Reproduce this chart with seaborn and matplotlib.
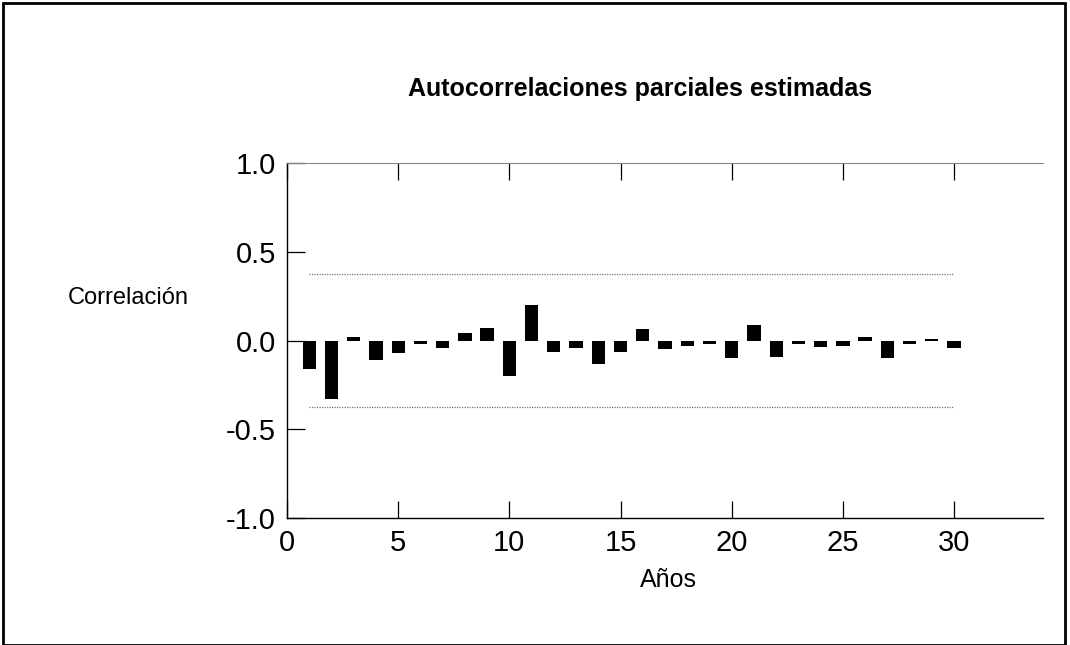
import matplotlib
matplotlib.use("Agg")
import matplotlib.pyplot as plt
import seaborn as sns
import pandas as pd
from matplotlib.patches import Rectangle

lags = list(range(1, 31))
pacf = [-0.16, -0.33, 0.02, -0.11, -0.07, -0.02, -0.04, 0.04, 0.07, -0.20,
        0.20, -0.065, -0.04, -0.13, -0.065, 0.065, -0.05, -0.03, -0.02, -0.10,
        0.085, -0.095, -0.02, -0.035, -0.03, 0.02, -0.10, -0.02, 0.01, -0.045]
conf_band = 0.372
band_lags = [1, 30]
x_ticks = [0, 5, 10, 15, 20, 25, 30]
y_ticks = [-1.0, -0.5, 0.0, 0.5, 1.0]
y_ticklabels = ["-1.0", "-0.5", "0.0", "0.5", "1.0"]
title = "Autocorrelaciones parciales estimadas"
xlabel = "Años"
ylabel = "Correlación"

sns.set_style("white")
plt.rcParams["font.family"] = ["Liberation Sans Narrow", "Liberation Sans", "DejaVu Sans"]
plt.rcParams["text.color"] = "black"
plt.rcParams["xtick.color"] = "black"
plt.rcParams["ytick.color"] = "black"

df = pd.DataFrame({"lag": lags, "pacf": pacf})

fig = plt.figure(figsize=(10.70, 6.45), dpi=100)
ax = fig.add_axes([287 / 1070, 1 - 518 / 645, (1043 - 287) / 1070, (518 - 163) / 645])

sns.barplot(data=df, x="lag", y="pacf", native_scale=True, width=0.6,
            color="black", edgecolor="black", linewidth=0, ax=ax, zorder=3)

ax.hlines([conf_band, -conf_band], band_lags[0], band_lags[1], colors="#777777",
          linestyles=(0, (1, 1)), linewidth=0.9, zorder=2)

ax.set_xlim(0, 34)
ax.set_ylim(-1.0, 1.0)
ax.set_xticks(x_ticks)
ax.set_xticklabels([str(t) for t in x_ticks])
ax.set_yticks(y_ticks)
ax.set_yticklabels(y_ticklabels)

ax.tick_params(axis="x", direction="in", length=12, width=0.9, top=True, bottom=True,
               labelsize=21, pad=8, color="black", labelcolor="black")
ax.tick_params(axis="y", direction="in", length=13, width=0.9, left=True, right=False,
               labelsize=21, pad=8, color="black", labelcolor="black")

for side in ["left", "bottom"]:
    ax.spines[side].set_visible(True)
    ax.spines[side].set_color("black")
    ax.spines[side].set_linewidth(1.0)
ax.spines["top"].set_visible(True)
ax.spines["top"].set_color("#888888")
ax.spines["top"].set_linewidth(0.8)
ax.spines["right"].set_visible(False)

ax.set_xlabel("")
ax.set_ylabel("")

fig.text(640 / 1070, 1 - 89 / 645, title, ha="center", va="center", fontsize=18,
         fontweight="bold", color="black")
fig.text(668 / 1070, 1 - 580 / 645, xlabel, ha="center", va="center", fontsize=18,
         color="black")
fig.text(128 / 1070, 1 - 298 / 645, ylabel, ha="center", va="center", fontsize=17,
         color="black")

fig.patches.append(Rectangle((3 / 1070, 0), 1062 / 1070, 1 - 3 / 645,
                             transform=fig.transFigure, fill=False,
                             edgecolor="black", linewidth=2))

fig.savefig("out.png", dpi=100)
